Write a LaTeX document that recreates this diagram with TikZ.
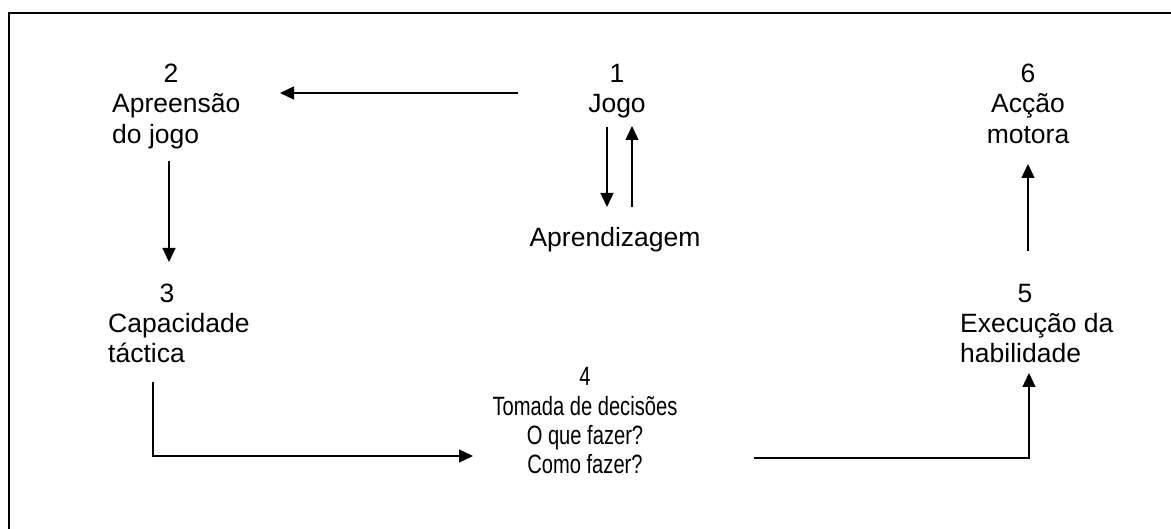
\documentclass[tikz,border=0pt]{standalone}
\usepackage{fontspec}
\usepackage{graphicx}
\setmainfont{Liberation Sans}
\usetikzlibrary{arrows.meta}
\begin{document}
\begin{tikzpicture}[x=1pt,y=-1pt,
  lbl/.style={inner sep=0pt, font=\fontsize{26.5}{30}\selectfont},
  narrow/.style={lbl, anchor=base},
  arr/.style={line width=1.3pt, -{Triangle[length=14pt,width=13pt]}},
  frame/.style={line width=1.5pt}]
\useasboundingbox (0,0) rectangle (1171,529);
% frame (top and left edges)
\coordinate (fTR) at (1171,13);
\coordinate (fTL) at (9,13);
\coordinate (fBL) at (9,529);
\draw[frame] (fTR) -- (fTL) -- (fBL);

% node 1
\node[lbl,anchor=base] (n1) at (617,83) {1};
\node[lbl,anchor=base] (t1) at (617,113) {Jogo};
\node[lbl,anchor=base] (ap) at (615,247) {Aprendizagem};
% node 2
\node[lbl,anchor=base] (n2) at (171,83) {2};
\node[lbl,anchor=base west] (t2a) at (112,113) {Apreensão};
\node[lbl,anchor=base west] (t2b) at (112,144) {do jogo};
% node 3
\node[lbl,anchor=base] (n3) at (167,303) {3};
\node[lbl,anchor=base west] (t3a) at (108,333) {Capacidade};
\node[lbl,anchor=base west] (t3b) at (108,363) {táctica};
% node 4
\node[narrow] (n4) at (585,386) {\scalebox{0.76}[1]{4}};
\node[narrow] (t4a) at (585,416) {\scalebox{0.76}[1]{Tomada de decisões}};
\node[narrow] (t4b) at (585,445) {\scalebox{0.76}[1]{O que fazer?}};
\node[narrow] (t4c) at (585,474) {\scalebox{0.76}[1]{Como fazer?}};
% node 5
\node[lbl,anchor=base] (n5) at (1025,303) {5};
\node[lbl,anchor=base west] (t5a) at (960,333) {Execução da};
\node[lbl,anchor=base west] (t5b) at (960,363) {habilidade};
% node 6
\node[lbl,anchor=base] (n6) at (1028,83) {6};
\node[lbl,anchor=base] (t6a) at (1028,113) {Acção};
\node[lbl,anchor=base] (t6b) at (1028,144) {motora};

% connector end points
\coordinate (a12s) at (518,93);  \coordinate (a12e) at (280,93);
\coordinate (a23s) at (169,161); \coordinate (a23e) at (169,262);
\coordinate (a34s) at (153,382); \coordinate (a34c) at (153,456); \coordinate (a34e) at (473,456);
\coordinate (a45s) at (754,458); \coordinate (a45c) at (1029,458); \coordinate (a45e) at (1029,373);
\coordinate (a56s) at (1028,251); \coordinate (a56e) at (1028,164);
\coordinate (ajds) at (607,127); \coordinate (ajde) at (607,207);
\coordinate (ajus) at (632,207); \coordinate (ajue) at (632,126);

\draw[arr] (a12s) -- (a12e);
\draw[arr] (a23s) -- (a23e);
\draw[arr] (a34s) -- (a34c) -- (a34e);
\draw[arr] (a45s) -- (a45c) -- (a45e);
\draw[arr] (a56s) -- (a56e);
\draw[arr] (ajds) -- (ajde);
\draw[arr] (ajus) -- (ajue);
\end{tikzpicture}
\end{document}
